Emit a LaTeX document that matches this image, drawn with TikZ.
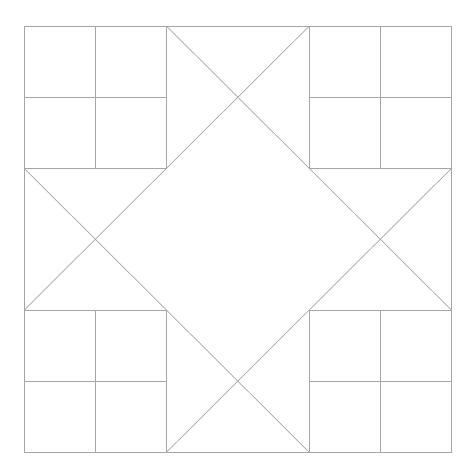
\documentclass[tikz,border=0pt]{standalone}
\begin{document}
\begin{tikzpicture}[x=1bp,y=-1bp,
  quiltline/.style={draw=black!35,line width=0.7bp}]
\useasboundingbox (0,0) rectangle (474,476);
% grid coordinates
\def\xa{24.3}\def\xb{95.5}\def\xc{166.7}\def\xd{309}\def\xe{380.2}\def\xf{451.3}
\def\ya{26.3}\def\yb{97.5}\def\yc{168.5}\def\yd{310}\def\ye{381.2}\def\yf{452}
% outer square
\draw[quiltline] (\xa,\ya) rectangle (\xf,\yf);
% corner four-patches
\foreach \x/\xm/\xx/\y/\ym/\yy in {\xa/\xb/\xc/\ya/\yb/\yc, \xd/\xe/\xf/\ya/\yb/\yc, \xa/\xb/\xc/\yd/\ye/\yf, \xd/\xe/\xf/\yd/\ye/\yf}{
  \draw[quiltline] (\x,\y) rectangle (\xx,\yy);
  \draw[quiltline] (\xm,\y) -- (\xm,\yy);
  \draw[quiltline] (\x,\ym) -- (\xx,\ym);
}
% star diagonals
\draw[quiltline] (\xc,\ya) -- (\xf,\yd);
\draw[quiltline] (\xd,\ya) -- (\xa,\yd);
\draw[quiltline] (\xa,\yc) -- (\xd,\yf);
\draw[quiltline] (\xf,\yc) -- (\xc,\yf);
\end{tikzpicture}
\end{document}
